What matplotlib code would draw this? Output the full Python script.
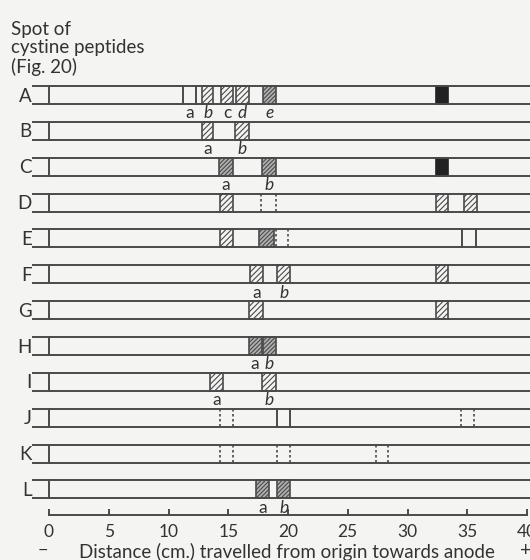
import matplotlib.pyplot as plt
from matplotlib.patches import Rectangle

plt.rcParams['font.family'] = ['Lato', 'DejaVu Sans']
plt.rcParams['hatch.linewidth'] = 0.8
plt.rcParams['hatch.color'] = '#555555'

# strips (spots of cystine peptides, Fig. 20)
rows = ['A', 'B', 'C', 'D', 'E', 'F', 'G', 'H', 'I', 'J', 'K', 'L']

# bands: row, start (cm), end (cm), kind, label
band_row = ['A', 'A', 'A', 'A', 'A', 'A',
            'B', 'B',
            'C', 'C', 'C',
            'D', 'D', 'D', 'D',
            'E', 'E', 'E', 'E',
            'F', 'F', 'F',
            'G', 'G',
            'H', 'H',
            'I', 'I',
            'J', 'J', 'J',
            'K', 'K', 'K',
            'L', 'L']
band_start = [11.2, 12.8, 14.4, 15.65, 17.9, 32.4,
              12.8, 15.6,
              14.2, 17.8, 32.4,
              14.3, 17.7, 32.4, 34.7,
              14.3, 17.6, 19.0, 34.6,
              16.8, 19.1, 32.4,
              16.7, 32.4,
              16.7, 17.9,
              13.5, 17.8,
              14.3, 19.1, 34.5,
              14.3, 19.1, 27.4,
              17.3, 19.1]
band_end = [12.3, 13.75, 15.4, 16.7, 19.0, 33.4,
            13.75, 16.7,
            15.4, 19.0, 33.4,
            15.4, 19.0, 33.4, 35.8,
            15.4, 18.8, 20.0, 35.7,
            17.9, 20.2, 33.4,
            17.9, 33.4,
            17.8, 19.0,
            14.6, 19.0,
            15.4, 20.2, 35.6,
            15.4, 20.2, 28.4,
            18.4, 20.2]
band_kind = ['open', 'hatch', 'hatch', 'hatch', 'dense', 'black',
             'hatch', 'hatch',
             'dense', 'dense', 'black',
             'hatch', 'dotted', 'hatch', 'hatch',
             'hatch', 'dense', 'dotted', 'open',
             'hatch', 'hatch', 'hatch',
             'hatch', 'hatch',
             'dense', 'dense',
             'hatch', 'hatch',
             'dotted', 'open', 'dotted',
             'dotted', 'dotted', 'dotted',
             'dense', 'dense']
band_label = ['a', 'b', 'c', 'd', 'e', '',
              'a', 'b',
              'a', 'b', '',
              '', '', '', '',
              '', '', '', '',
              'a', 'b', '',
              '', '',
              'a', 'b',
              'a', 'b',
              '', '', '',
              '', '', '',
              'a', 'b']

ticks = [0, 5, 10, 15, 20, 25, 30, 35, 40]

bg = '#f4f4f2'
ink = '#4a4a4a'
txt = '#333333'


def py(p):
    # pixel row -> strip units
    return (p - 95) / 35.86


fig = plt.figure(figsize=(5.3, 5.6), dpi=100, facecolor=bg)
ax = fig.add_axes([0, 0, 1, 1])
ax.set_facecolor(bg)
ax.set_xlim(-4.1, 40.25)
ax.set_ylim(py(560), py(0))
ax.axis('off')

h = 0.25
for i, r in enumerate(rows):
    ax.plot([-1.34, 40.3], [i - h, i - h], color=ink, lw=1.4)
    ax.plot([-1.34, 40.3], [i + h, i + h], color=ink, lw=1.4)
    ax.plot([0, 0], [i - h, i + h], color=ink, lw=1.4)
    ax.text(-1.45, i + 0.03, r, ha='right', va='center', fontsize=13.5, color=txt)

for r, s, e, k, lab in zip(band_row, band_start, band_end, band_kind, band_label):
    i = rows.index(r)
    if k == 'hatch':
        ax.add_patch(Rectangle((s, i - h), e - s, 2 * h, facecolor=bg, edgecolor=ink,
                               hatch='//////', lw=1.2))
    elif k == 'dense':
        ax.add_patch(Rectangle((s, i - h), e - s, 2 * h, facecolor='#b0b0b0', edgecolor=ink,
                               hatch='////////', lw=1.2))
    elif k == 'black':
        ax.add_patch(Rectangle((s, i - h), e - s, 2 * h, facecolor='#222222', edgecolor='#222222',
                               lw=1.2))
    elif k == 'open':
        ax.plot([s, s], [i - h, i + h], color=ink, lw=1.4)
        ax.plot([e, e], [i - h, i + h], color=ink, lw=1.4)
    elif k == 'dotted':
        ax.plot([s, s], [i - h, i + h], color=ink, lw=1.2, ls=(0, (1.5, 1.5)))
        ax.plot([e, e], [i - h, i + h], color=ink, lw=1.2, ls=(0, (1.5, 1.5)))
    if lab:
        st = 'normal' if lab in ('a', 'c') else 'italic'
        ax.text((s + e) / 2, i + h + 0.04, lab, ha='center', va='top', fontsize=12.5,
                style=st, color=txt)

# distance scale
ax.plot([0, 40], [py(515), py(515)], color=ink, lw=1.4)
for t in ticks:
    ax.plot([t, t], [py(515), py(510)], color=ink, lw=1.4)
    ax.text(t, py(532), str(t), ha='center', va='center', fontsize=12.5, color=txt)
ax.text(19.9, py(552), 'Distance (cm.) travelled from origin towards anode',
        ha='center', va='center', fontsize=13.5, color=txt)
ax.text(-0.5, py(551), '\u2212', ha='center', va='center', fontsize=13, color=txt)
ax.text(39.9, py(551), '+', ha='center', va='center', fontsize=14, color=txt)

ax.text(-3.2, py(21), 'Spot of\ncystine peptides\n(Fig. 20)', ha='left', va='top',
        fontsize=13.5, color=txt, linespacing=1.1)

fig.savefig('out.png', dpi=100, facecolor=bg)
